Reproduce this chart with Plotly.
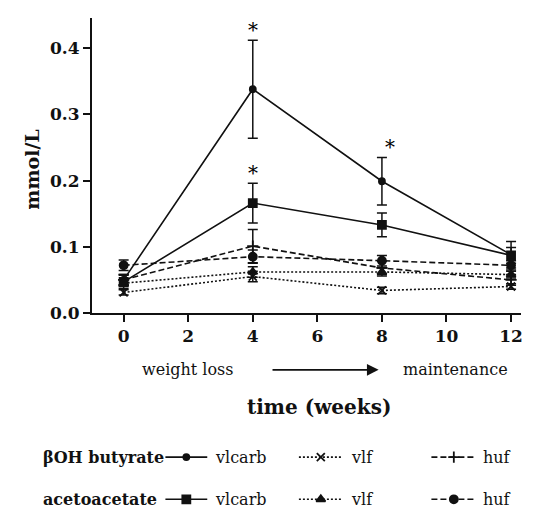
import plotly.graph_objects as go

weeks = [0, 4, 8, 12]

boh_vlcarb = [0.050, 0.338, 0.199, 0.088]
boh_vlcarb_err = [0.008, 0.074, 0.036, 0.020]
boh_vlf = [0.031, 0.055, 0.034, 0.040]
boh_vlf_err = [0.004, 0.008, 0.005, 0.004]
boh_huf = [0.050, 0.101, 0.068, 0.050]
boh_huf_err = [0.008, 0.025, 0.010, 0.008]

aa_vlcarb = [0.047, 0.166, 0.133, 0.087]
aa_vlcarb_err = [0.010, 0.030, 0.018, 0.012]
aa_vlf = [0.045, 0.062, 0.062, 0.058]
aa_vlf_err = [0.005, 0.008, 0.006, 0.005]
aa_huf = [0.072, 0.085, 0.079, 0.072]
aa_huf_err = [0.008, 0.010, 0.008, 0.007]

x_ticks = [0, 2, 4, 6, 8, 10, 12]
y_ticks = [0.0, 0.1, 0.2, 0.3, 0.4]
y_tick_text = ["0.0", "0.1", "0.2", "0.3", "0.4"]

INK = "#111111"
FONT = "DejaVu Serif"
DOT = "2px,2px"
DASH = "6px,3px"

series = [
    ("βOH vlcarb", boh_vlcarb, boh_vlcarb_err, "solid", "circle", 6),
    ("βOH vlf", boh_vlf, boh_vlf_err, DOT, "x-thin-open", 8),
    ("βOH huf", boh_huf, boh_huf_err, DASH, "cross-thin-open", 8),
    ("AA vlcarb", aa_vlcarb, aa_vlcarb_err, "solid", "square", 8),
    ("AA vlf", aa_vlf, aa_vlf_err, DOT, "triangle-up", 8),
    ("AA huf", aa_huf, aa_huf_err, DASH, "circle", 8),
]

fig = go.Figure()
for name, vals, err, dash, sym, size in series:
    fig.add_trace(go.Scatter(
        x=weeks, y=vals, name=name, mode="lines+markers",
        line=dict(color=INK, width=1.6, dash=dash),
        marker=dict(symbol=sym, size=size, color=INK,
                    line=dict(color=INK, width=1.8)),
        error_y=dict(type="data", array=err, visible=True,
                     color=INK, thickness=1.5, width=5),
        showlegend=False, xaxis="x", yaxis="y",
    ))

# custom legend (pixel coordinates on an overlay axis)
leg_rows = [
    (458, "βOH butyrate", [("solid", "circle", 6, "vlcarb"),
                           (DOT, "x-thin-open", 8, "vlf"),
                           (DASH, "cross-thin-open", 8, "huf")]),
    (501, "acetoacetate", [("solid", "square", 8, "vlcarb"),
                           (DOT, "triangle-up", 8, "vlf"),
                           (DASH, "circle", 8, "huf")]),
]
sample_x = [(158, 200), (292, 336), (425, 470)]
label_x = [206, 342, 475]
annotations = []
for ry, title, items in leg_rows:
    annotations.append(dict(x=33, y=ry, xref="x2", yref="y2", text="<b>%s</b>" % title,
                            showarrow=False, xanchor="left", yanchor="middle",
                            font=dict(family=FONT, size=16, color=INK)))
    for (x0, x1), lx, (dash, sym, size, lab) in zip(sample_x, label_x, items):
        fig.add_trace(go.Scatter(
            x=[x0, (x0 + x1) / 2, x1], y=[ry, ry, ry], mode="lines",
            line=dict(color=INK, width=1.6, dash=dash),
            showlegend=False, xaxis="x2", yaxis="y2", hoverinfo="skip"))
        fig.add_trace(go.Scatter(
            x=[(x0 + x1) / 2], y=[ry], mode="markers",
            marker=dict(symbol=sym, size=size, color=INK, line=dict(color=INK, width=1.8)),
            showlegend=False, xaxis="x2", yaxis="y2", hoverinfo="skip"))
        annotations.append(dict(x=lx, y=ry, xref="x2", yref="y2", text=lab,
                                showarrow=False, xanchor="left", yanchor="middle",
                                font=dict(family=FONT, size=16, color=INK)))

# asterisks
annotations += [
    dict(x=4, y=0.428, xref="x", yref="y", text="*", showarrow=False,
         font=dict(family=FONT, size=20, color="black")),
    dict(x=4, y=0.212, xref="x", yref="y", text="*", showarrow=False,
         font=dict(family=FONT, size=20, color="black")),
    dict(x=8.25, y=0.250, xref="x", yref="y", text="*", showarrow=False,
         font=dict(family=FONT, size=20, color="black")),
]
# axis titles and phase labels
annotations += [
    dict(x=24, y=165, xref="x2", yref="y2", text="<b>mmol/L</b>", textangle=-90,
         showarrow=False, font=dict(family=FONT, size=19, color=INK)),
    dict(x=312, y=407, xref="x2", yref="y2", text="<b>time (weeks)</b>",
         showarrow=False, font=dict(family=FONT, size=20, color=INK)),
    dict(x=181, y=369, xref="x2", yref="y2", text="weight loss",
         showarrow=False, font=dict(family=FONT, size=16, color=INK)),
    dict(x=449, y=369, xref="x2", yref="y2", text="maintenance",
         showarrow=False, font=dict(family=FONT, size=16, color=INK)),
    dict(x=372, y=369, ax=264, ay=369, xref="x2", yref="y2", axref="x2", ayref="y2",
         text="", showarrow=True, arrowhead=2, arrowsize=1.3, arrowwidth=1.8,
         arrowcolor=INK),
]

fig.update_layout(
    width=534, height=516,
    margin=dict(l=0, r=0, t=0, b=0),
    paper_bgcolor="white", plot_bgcolor="rgba(0,0,0,0)",
    font=dict(family=FONT, color=INK),
    annotations=annotations,
    xaxis=dict(domain=[84 / 534, 515 / 534], range=[-0.99, 12.31],
               tickvals=x_ticks, ticks="outside", ticklen=7, tickwidth=1.5,
               tickcolor=INK, showline=True, linecolor=INK, linewidth=1.5,
               showgrid=False, zeroline=False,
               tickfont=dict(family=FONT, size=17, color=INK, weight="bold"),
               anchor="y"),
    yaxis=dict(domain=[(516 - 311) / 516, (516 - 10) / 516], range=[0, 0.4459],
               tickvals=y_ticks, ticktext=y_tick_text, ticks="outside", ticklen=7,
               tickwidth=1.5, tickcolor=INK, showline=True, linecolor=INK,
               linewidth=1.5, showgrid=False, zeroline=False,
               tickfont=dict(family=FONT, size=17, color=INK, weight="bold"),
               anchor="x"),
    xaxis2=dict(domain=[0, 1], range=[0, 534], visible=False, anchor="y2"),
    yaxis2=dict(domain=[0, 1], range=[516, 0], visible=False, anchor="x2"),
)

fig.write_html("out.html")
